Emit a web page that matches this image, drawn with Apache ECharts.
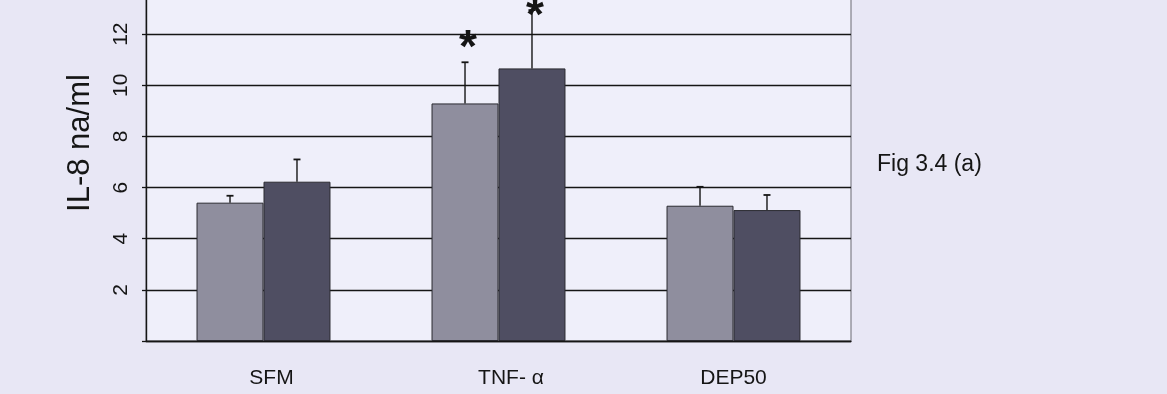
<!DOCTYPE html>
<html>
<head>
<meta charset="utf-8">
<script src="https://cdn.jsdelivr.net/npm/echarts@6/dist/echarts.min.js"></script>
<style>
  html, body { margin: 0; padding: 0; background: #e8e7f5; }
  #chart { width: 1167px; height: 394px; }
</style>
</head>
<body>
<div id="chart"></div>
<script>
// IL-8 release (ng/ml) per treatment, two conditions per group
const categories = ['SFM', 'TNF- α', 'DEP50'];
const lightMeans = [5.41, 9.29, 5.29];
const lightErr = [0.27, 1.61, 0.74];
const darkMeans = [6.23, 10.66, 5.12];
const darkErr = [0.87, 2.28, 0.59];
// significance markers (value at which the asterisk sits), null = none
const lightSig = [null, 11.8, null];
const darkSig = [null, 13.05, null];
// value axis
const yMin = 0, yMax = 14, yStep = 2;

const CAT_GAP = 0.43;
const FONT = '"Liberation Sans", Arial, sans-serif';
const INK = '#151515';
const STAR_SIZE = 46;

function barCenter(api, ci, side) {
  const band = api.size([1, 0])[0];
  const barW = band * (1 - CAT_GAP) / 2;
  return api.coord([ci, 0])[0] + side * barW / 2;
}

function errorBarItem(params, api) {
  const ci = api.value(0), mean = api.value(1), err = api.value(2), side = api.value(3);
  const x = barCenter(api, ci, side);
  const yBase = api.coord([ci, mean])[1];
  const yTop = api.coord([ci, mean + err])[1];
  const cap = 3.5;
  return {
    type: 'group',
    children: [
      { type: 'line', shape: { x1: x, y1: yBase, x2: x, y2: yTop }, style: { stroke: INK, lineWidth: 1.4 } },
      { type: 'line', shape: { x1: x - cap, y1: yTop, x2: x + cap, y2: yTop }, style: { stroke: INK, lineWidth: 1.8 } }
    ]
  };
}

// the asterisk glyph sits high in its text box, so drop the box by part of the font size
function sigItem(params, api) {
  const ci = api.value(0), v = api.value(1), side = api.value(2);
  const x = barCenter(api, ci, side) + 3;
  const y = api.coord([ci, v])[1] + STAR_SIZE * 0.22;
  return {
    type: 'text',
    x: x, y: y,
    style: {
      text: '*', fill: INK, font: 'bold ' + STAR_SIZE + 'px ' + FONT,
      align: 'center', verticalAlign: 'middle'
    }
  };
}

const errData = [];
const sigData = [];
categories.forEach((c, i) => {
  errData.push([i, lightMeans[i], lightErr[i], -1]);
  errData.push([i, darkMeans[i], darkErr[i], 1]);
  if (lightSig[i] != null) sigData.push([i, lightSig[i], -1]);
  if (darkSig[i] != null) sigData.push([i, darkSig[i], 1]);
});

// horizontal nudges of the category labels
const labelShift = [16, 25, 0];

const chart = echarts.init(document.getElementById('chart'), null, { renderer: 'canvas' });
chart.setOption({
  backgroundColor: '#e8e7f5',
  animation: false,
  grid: {
    left: 146, right: 316, top: -17, bottom: 53,
    show: true, backgroundColor: '#efeffa', borderColor: '#6a6a72', borderWidth: 1,
    containLabel: false, outerBoundsMode: 'none'
  },
  xAxis: {
    type: 'category',
    data: categories,
    axisLine: { lineStyle: { color: INK, width: 1.4 } },
    axisTick: { show: false },
    axisLabel: {
      margin: 27, fontSize: 21, fontFamily: FONT, color: INK,
      formatter: function (v, i) { return '{s' + i + '|' + v + '}'; },
      rich: {
        s0: { fontSize: 21, fontFamily: FONT, color: INK, padding: [0, 0, 0, labelShift[0]] },
        s1: { fontSize: 21, fontFamily: FONT, color: INK, padding: [0, 0, 0, labelShift[1]] },
        s2: { fontSize: 21, fontFamily: FONT, color: INK, padding: [0, 0, 0, labelShift[2]] }
      }
    }
  },
  yAxis: {
    type: 'value',
    min: yMin, max: yMax, interval: yStep,
    axisLine: { show: true, lineStyle: { color: INK, width: 1.4 } },
    axisTick: { show: true, length: 4, lineStyle: { color: INK, width: 1.3 } },
    axisLabel: {
      rotate: 90, margin: 14, fontSize: 21, fontFamily: FONT, color: INK,
      formatter: function (v) { return v === 0 || v === yMax ? '' : String(v); }
    },
    splitLine: { show: true, lineStyle: { color: INK, width: 1.4 } }
  },
  graphic: [
    {
      type: 'text', x: 80, y: 143, rotation: Math.PI / 2,
      style: { text: 'IL-8 na/ml', font: '31px ' + FONT, fill: INK, align: 'center', verticalAlign: 'middle' }
    },
    {
      type: 'text', x: 877, y: 165,
      style: { text: 'Fig 3.4 (a)', font: '23px ' + FONT, fill: INK, align: 'left', verticalAlign: 'middle' }
    }
  ],
  series: [
    {
      type: 'bar', data: lightMeans, barGap: '0%', barCategoryGap: (CAT_GAP * 100) + '%',
      itemStyle: { color: '#8f8e9e', borderColor: '#2a2a30', borderWidth: 1 }
    },
    {
      type: 'bar', data: darkMeans,
      itemStyle: { color: '#4f4e62', borderColor: '#2a2a30', borderWidth: 1 }
    },
    { type: 'custom', renderItem: errorBarItem, data: errData, z: 5 },
    { type: 'custom', renderItem: sigItem, data: sigData, z: 6 }
  ]
});
</script>
</body>
</html>
